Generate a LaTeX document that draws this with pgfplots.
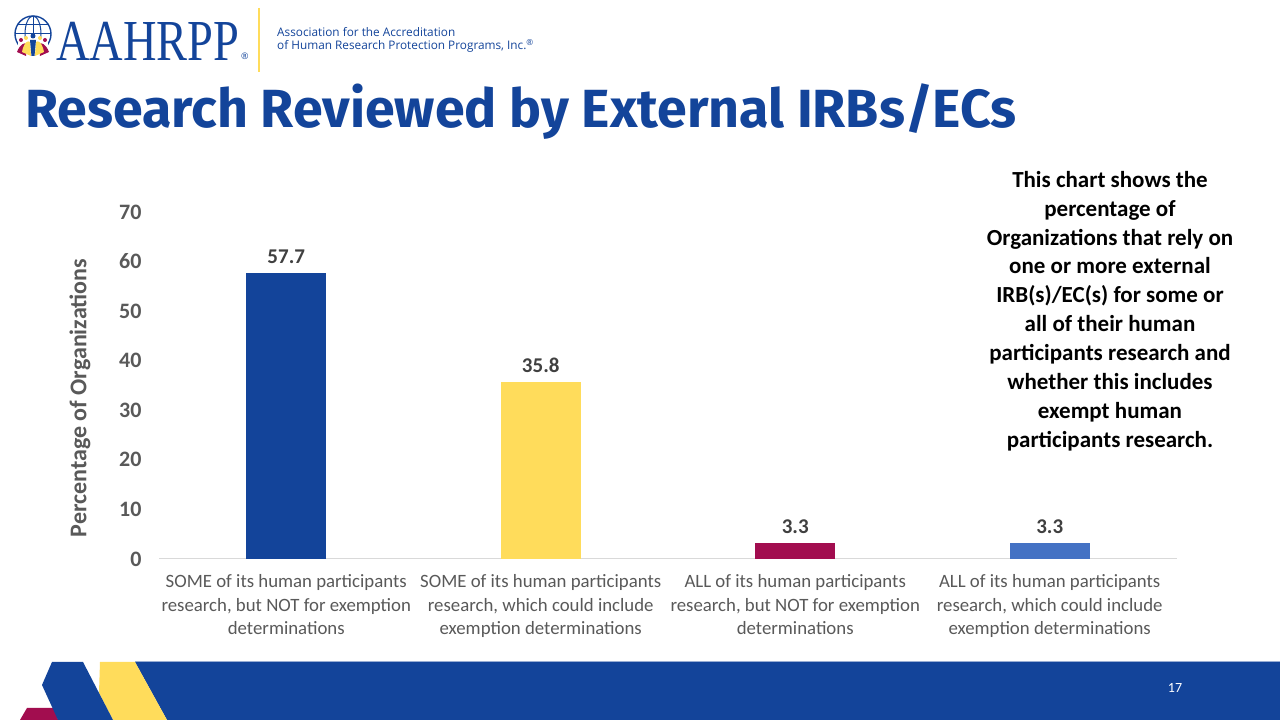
\documentclass[border=0pt]{standalone}
\usepackage{fontspec}
\setmainfont{Carlito}
\newfontfamily\fira{Fira Sans}
\newfontfamily\serifl{Liberation Serif}
\newfontfamily\opens{Open Sans}
\usepackage{pgfplots}
\pgfplotsset{compat=1.18}
\definecolor{aablue}{HTML}{13449A}
\definecolor{aayellow}{HTML}{FFDC5B}
\definecolor{aamaroon}{HTML}{A20D4F}
\definecolor{aablue4}{HTML}{4472C4}
\definecolor{txtgray}{HTML}{595959}
\definecolor{lblgray}{HTML}{404040}
\begin{document}
\begin{tikzpicture}[x=1pt,y=1pt]
\path[use as bounding box] (0,0) rectangle (1280,720);
\fill[white] (0,0) rectangle (1280,720);
% footer band
\draw[aablue!35, line width=1.5pt] (135,58.7) -- (1280,58.7);
\fill[aablue] (135,58) -- (1280,58) -- (1280,0) -- (167,0) -- cycle;
\fill[aayellow] (100,58) -- (135,58) -- (167,0) -- (113,0) -- (99,27) -- cycle;
\fill[aamaroon] (27,12) -- (55,12) -- (58,0) -- (20,0) -- cycle;
\fill[aablue] (52,58) -- (83,58) -- (113,0) -- (58,0) -- (42,35) -- cycle;
\node[white, font=\fontsize{14}{14}\selectfont] at (1175,32) {17};
% logo
\begin{scope}
\draw[aablue, line width=1.4pt] (33,686) circle (18);
\draw[aablue, line width=1pt] (33,686) ellipse (8 and 18);
\draw[aablue, line width=1pt] (33,704) -- (33,668);
\draw[aablue, line width=1pt] (15,686) -- (51,686);
\draw[aablue, line width=1pt] (18,695) -- (48,695);
\fill[white] (18,660) rectangle (48,682);
\fill[aamaroon] (17,668) .. controls (20,676) and (25,678) .. (27,676) -- (26,664) -- cycle;
\fill[aamaroon] (49,668) .. controls (46,676) and (41,678) .. (39,676) -- (40,664) -- cycle;
\fill[aayellow] (22,668) .. controls (24,678) and (28,680) .. (30,678) -- (31,664) -- cycle;
\fill[aayellow] (44,668) .. controls (42,678) and (38,680) .. (36,678) -- (35,664) -- cycle;
\fill[aablue] (30,680) -- (36,680) -- (34.5,664) -- (31.5,664) -- cycle;
\fill[aablue] (33,684) circle (2.5);
\fill[aamaroon] (21,680) circle (2);
\fill[aamaroon] (45,680) circle (2);
\fill[aayellow] (26,682) circle (2);
\fill[aayellow] (40,682) circle (2);
\end{scope}
\node[anchor=base west, inner sep=0, aablue, font=\serifl\fontsize{58}{58}\selectfont] at (56,659) {\scalebox{0.8}[1]{AAHRPP}};
\node[anchor=base west, inner sep=0, aablue, font=\opens\fontsize{9}{9}\selectfont] at (241,660) {\textregistered};
\draw[aayellow, line width=1.5pt] (259,712) -- (259,648);
\node[anchor=west, inner sep=0, aablue, font=\opens\fontsize{11.8}{14}\selectfont] at (277,688) {Association for the Accreditation};
\node[anchor=west, inner sep=0, aablue, font=\opens\fontsize{11.8}{14}\selectfont] at (277,674) {of Human Research Protection Programs, Inc.\textsuperscript{\textregistered}};
% title
\node[anchor=base west, inner sep=0, aablue, font=\fira\bfseries\fontsize{53.7}{54}\selectfont] at (25,592) {Research Reviewed by External IRBs/ECs};
% side text
\node[align=center, inner sep=0, font=\bfseries\fontsize{23}{28.9}\selectfont] at (1110,409) {This chart shows the\\percentage of\\Organizations that rely on\\one or more external\\IRB(s)/EC(s) for some or\\all of their human\\participants research and\\whether this includes\\exempt human\\participants research.};
\begin{axis}[
  at={(159pt,161pt)}, anchor=south west, scale only axis,
  width=1018pt, height=347pt,
  xmin=-0.5, xmax=3.5, ymin=0, ymax=70,
  ytick={0,10,...,70}, xtick={0,1,2,3},
  xticklabels={{SOME of its human participants\\research, but NOT for exemption\\determinations},
               {SOME of its human participants\\research, which could include\\exemption determinations},
               {ALL of its human participants\\research, but NOT for exemption\\determinations},
               {ALL of its human participants\\research, which could include\\exemption determinations}},
  axis x line*=bottom, axis y line*=left,
  y axis line style={draw=none},
  x axis line style={draw=black!15, line width=1pt},
  major tick length=0pt,
  /pgf/number format/assume math mode=true,
  xticklabel style={align=center, font=\fontsize{18.8}{23.5}\selectfont, text=txtgray, yshift=-12pt},
  yticklabel style={font=\bfseries\fontsize{22}{22}\selectfont, text=txtgray, xshift=-14pt},
  ylabel={Percentage of Organizations},
  ylabel style={at={(axis description cs:-0.0776,0.464)}, anchor=center, font=\bfseries\fontsize{24}{24}\selectfont, text=txtgray},
  ybar, bar width=80pt,
  nodes near coords,
  every node near coord/.append style={font=\bfseries\fontsize{21}{21}\selectfont, text=lblgray, inner sep=0pt, yshift=9pt, /pgf/number format/fixed, /pgf/number format/precision=1},
  clip=false,
]
\addplot[fill=aablue, draw=none, bar shift=0pt] coordinates {(0,57.7)};
\addplot[fill=aayellow, draw=none, bar shift=0pt] coordinates {(1,35.8)};
\addplot[fill=aamaroon, draw=none, bar shift=0pt] coordinates {(2,3.3)};
\addplot[fill=aablue4, draw=none, bar shift=0pt] coordinates {(3,3.3)};
\end{axis}
\end{tikzpicture}
\end{document}
